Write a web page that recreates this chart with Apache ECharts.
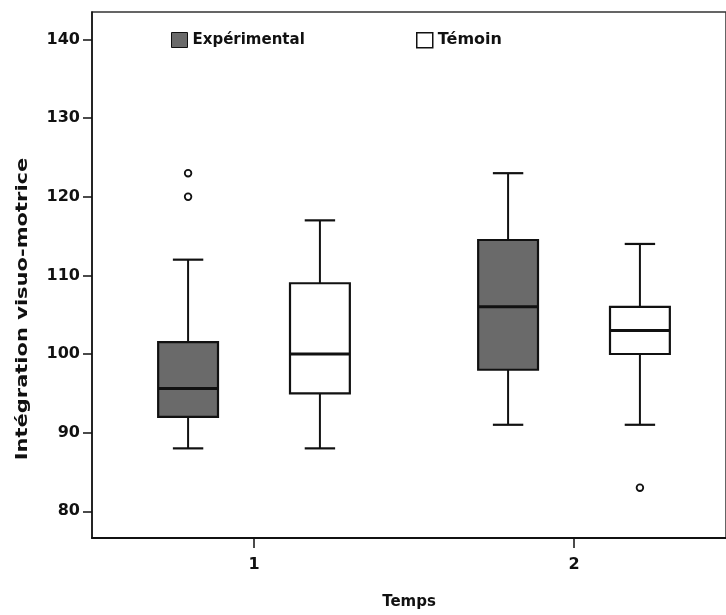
<!DOCTYPE html>
<html>
<head>
<meta charset="utf-8">
<script src="https://cdn.jsdelivr.net/npm/echarts@6/dist/echarts.min.js"></script>
<style>html,body{margin:0;padding:0;background:#fff}#c{width:726px;height:615px}</style>
</head>
<body>
<div id="c"></div>
<script>
// Data
const categories = ['1', '2'];
const categoryPos = [1, 2];
// [min whisker, Q1, median, Q3, max whisker] per time point
const expStats = [[88, 92, 95.6, 101.5, 112], [91, 98, 106, 114.5, 123]];
const temStats = [[88, 95, 100, 109, 117], [91, 100, 103, 106, 114]];
// outliers: [category index, value]
const expOutliers = [[0, 123], [0, 120]];
const temOutliers = [[1, 83]];
const yTicks = [80, 90, 100, 110, 120, 130, 140];
const seriesNames = ['Expérimental', 'Témoin'];

const FONT = 'DejaVu Sans';
const EXP_FILL = '#6a6a6a';
const OFFSET = 0.206, BOXW = 0.187, CAPW = 0.095;

function boxRenderer(sign, fill) {
  return function (params, api) {
    const xv = api.value(0);
    const band = api.size([1, 0])[0];
    const cx = api.coord([xv + sign * OFFSET, api.value(3)])[0];
    const y = i => api.coord([xv, api.value(i)])[1];
    const yLo = y(1), yQ1 = y(2), yMed = y(3), yQ3 = y(4), yHi = y(5);
    const hw = BOXW * band / 2, hc = CAPW * band / 2;
    const line = (x1, y1, x2, y2, w) => ({
      type: 'line', shape: {x1, y1, x2, y2},
      style: {stroke: '#111', lineWidth: w}
    });
    return {
      type: 'group',
      children: [
        line(cx, yHi, cx, yQ3, 2),
        line(cx, yQ1, cx, yLo, 2),
        line(cx - hc, yHi, cx + hc, yHi, 2.2),
        line(cx - hc, yLo, cx + hc, yLo, 2.2),
        {type: 'rect', shape: {x: cx - hw, y: yQ3, width: 2 * hw, height: yQ1 - yQ3},
         style: {fill: fill, stroke: '#111', lineWidth: 2.2}},
        line(cx - hw, yMed, cx + hw, yMed, 3)
      ]
    };
  };
}
function outlierRenderer(sign) {
  return function (params, api) {
    const p = api.coord([api.value(0) + sign * OFFSET, api.value(1)]);
    return {type: 'circle', shape: {cx: p[0], cy: p[1], r: 3.3},
            style: {fill: '#fff', stroke: '#111', lineWidth: 1.8}};
  };
}

const chart = echarts.init(document.getElementById('c'));
chart.setOption({
  animation: false,
  backgroundColor: '#fff',
  grid: {left: 92, right: 0, top: 12, bottom: 72, show: true,
         borderColor: '#333', borderWidth: 1.5, backgroundColor: 'transparent'},
  legend: [
    {left: 171, top: 32, padding: 0, itemWidth: 16, itemHeight: 15, selectedMode: false,
     textStyle: {fontFamily: FONT, fontWeight: 'bold', fontSize: 15, color: '#111'},
     data: [{name: seriesNames[0], icon: 'rect',
             itemStyle: {color: EXP_FILL, borderColor: '#111', borderWidth: 1}}]},
    {left: 416, top: 32, padding: 0, itemWidth: 16, itemHeight: 15, selectedMode: false,
     textStyle: {fontFamily: FONT, fontWeight: 'bold', fontSize: 16, color: '#111'},
     data: [{name: seriesNames[1], icon: 'rect',
             itemStyle: {color: '#fff', borderColor: '#111', borderWidth: 1.5}}]}
  ],
  xAxis: {
    type: 'value', min: 0.49375, max: 0.49375 + 634 / 320,
    axisLine: {lineStyle: {color: '#111', width: 2}},
    axisTick: {length: 10, customValues: categoryPos, lineStyle: {color: '#111', width: 1.5}},
    axisLabel: {customValues: categoryPos, formatter: v => categories[categoryPos.indexOf(v)],
                margin: 19, fontFamily: FONT, fontWeight: 'bold', fontSize: 16, color: '#111'},
    splitLine: {show: false},
    name: 'Temps', nameLocation: 'middle', nameGap: 57,
    nameTextStyle: {fontFamily: FONT, fontWeight: 'bold', fontSize: 15, color: '#111'}
  },
  yAxis: {
    type: 'value', min: 76.6, max: 143.5,
    axisLine: {show: true, lineStyle: {color: '#111', width: 1.5}},
    axisTick: {show: true, length: 9, customValues: yTicks, lineStyle: {color: '#111', width: 1.5}},
    axisLabel: {customValues: yTicks, margin: 12, fontFamily: FONT, fontWeight: 'bold', fontSize: 16, color: '#111'},
    splitLine: {show: false}
  },
  graphic: [{
    type: 'text', x: 23, y: 309, rotation: Math.PI / 2, scaleX: 1.4,
    style: {text: 'Intégration visuo-motrice', fontFamily: FONT, fontWeight: 'bold',
            fontSize: 15, fill: '#111', align: 'center', verticalAlign: 'middle'}
  }],
  series: [
    {name: seriesNames[0], type: 'custom', renderItem: boxRenderer(-1, EXP_FILL),
     itemStyle: {color: EXP_FILL},
     encode: {x: 0, y: [1, 2, 3, 4, 5]},
     data: expStats.map((s, i) => [categoryPos[i]].concat(s))},
    {name: seriesNames[1], type: 'custom', renderItem: boxRenderer(1, '#fff'),
     itemStyle: {color: '#fff'},
     encode: {x: 0, y: [1, 2, 3, 4, 5]},
     data: temStats.map((s, i) => [categoryPos[i]].concat(s))},
    {name: seriesNames[0] + ' outliers', type: 'custom', renderItem: outlierRenderer(-1),
     encode: {x: 0, y: 1}, data: expOutliers.map(o => [categoryPos[o[0]], o[1]])},
    {name: seriesNames[1] + ' outliers', type: 'custom', renderItem: outlierRenderer(1),
     encode: {x: 0, y: 1}, data: temOutliers.map(o => [categoryPos[o[0]], o[1]])}
  ]
});
</script>
</body>
</html>
